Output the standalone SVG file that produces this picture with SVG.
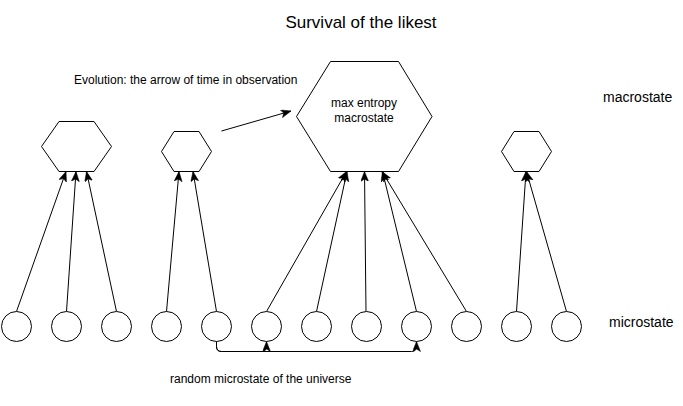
<svg xmlns="http://www.w3.org/2000/svg" width="683" height="406" viewBox="0 0 683 406">
<defs>
<style>
.n{fill:#fff;stroke:#000;stroke-width:1}
.e{fill:none;stroke:#000;stroke-width:1;marker-end:url(#a)}
.t{font-family:"Liberation Sans",Arial,sans-serif;fill:#000}
</style>
<marker id="a" markerUnits="userSpaceOnUse" markerWidth="12" markerHeight="10" viewBox="0 0 12 10" refX="10" refY="4" orient="auto">
<path d="M0,0 L10,4 L0,8 L2.5,4 Z" fill="#000" stroke="#000" stroke-width="0.5"/>
</marker>
</defs>
<rect width="683" height="406" fill="#fff"/>
<text class="t" x="361" y="28" font-size="17" text-anchor="middle">Survival of the likest</text>
<text class="t" x="74" y="84" font-size="12">Evolution: the arrow of time in observation</text>
<text class="t" x="603" y="102" font-size="14">macrostate</text>
<text class="t" x="609" y="327" font-size="14">microstate</text>
<text class="t" x="170" y="383" font-size="12">random microstate of the universe</text>
<g id="connectors">
<path class="e" d="M16.5,311.5 L66,171.5"/>
<path class="e" d="M66.5,311.5 L76,171.5"/>
<path class="e" d="M116.5,311.5 L86.5,171.5"/>
<path class="e" d="M166.5,311.5 L179,171.5"/>
<path class="e" d="M216.5,311.5 L193,171.5"/>
<path class="e" d="M266.5,311.5 L346.5,171.5"/>
<path class="e" d="M316.5,311.5 L347,171.5"/>
<path class="e" d="M366,311.5 L364.5,171.5"/>
<path class="e" d="M416.5,311.5 L382.5,171.5"/>
<path class="e" d="M466.5,311.5 L382,171.5"/>
<path class="e" d="M516.5,311.5 L526,171.5"/>
<path class="e" d="M566.5,311.5 L526.5,171.5"/>
<path class="e" d="M221.5,131 L291,111"/>
<path class="e" d="M216.5,341.5 V346.5 Q216.5,351.5 221.5,351.5 H261.5 Q266.5,351.5 266.5,346.5 V341.5"/>
<path class="e" d="M216.5,341.5 V346.5 Q216.5,351.5 221.5,351.5 H411.5 Q416.5,351.5 416.5,346.5 V341.5"/>
</g>
<g id="hex1"><polygon class="n" points="41.5,146.5 59,121.5 94,121.5 111.5,146.5 94,171.5 59,171.5"/></g>
<g id="hex2"><polygon class="n" points="161.5,151.5 174,131.5 199,131.5 211.5,151.5 199,171.5 174,171.5"/></g>
<g id="hex3"><polygon class="n" points="296.5,116.5 330.5,61.5 398.5,61.5 432,116.5 398.5,171.5 330.5,171.5"/>
<text class="t" x="364" y="107" font-size="12" text-anchor="middle">max entropy</text>
<text class="t" x="364" y="122" font-size="12" text-anchor="middle">macrostate</text></g>
<g id="hex4"><polygon class="n" points="501.5,151.5 514,131.5 539,131.5 551.5,151.5 539,171.5 514,171.5"/></g>
<g id="c1"><circle class="n" cx="16.5" cy="326.5" r="15"/></g>
<g id="c2"><circle class="n" cx="66.5" cy="326.5" r="15"/></g>
<g id="c3"><circle class="n" cx="116.5" cy="326.5" r="15"/></g>
<g id="c4"><circle class="n" cx="166.5" cy="326.5" r="15"/></g>
<g id="c5"><circle class="n" cx="216.5" cy="326.5" r="15"/></g>
<g id="c6"><circle class="n" cx="266.5" cy="326.5" r="15"/></g>
<g id="c7"><circle class="n" cx="316.5" cy="326.5" r="15"/></g>
<g id="c8"><circle class="n" cx="366.5" cy="326.5" r="15"/></g>
<g id="c9"><circle class="n" cx="416.5" cy="326.5" r="15"/></g>
<g id="c10"><circle class="n" cx="466.5" cy="326.5" r="15"/></g>
<g id="c11"><circle class="n" cx="516.5" cy="326.5" r="15"/></g>
<g id="c12"><circle class="n" cx="566.5" cy="326.5" r="15"/></g>
</svg>
